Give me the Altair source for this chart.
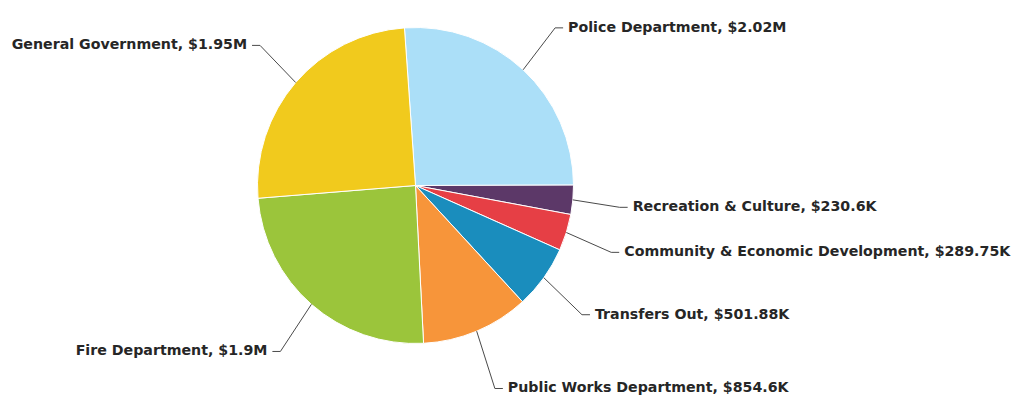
import altair as alt
import pandas as pd

categories = [
    "Police Department",
    "Recreation & Culture",
    "Community & Economic Development",
    "Transfers Out",
    "Public Works Department",
    "Fire Department",
    "General Government",
]
values = [2020000, 230600, 289750, 501880, 854600, 1900000, 1950000]
colors = ["#abdff8", "#5c3868", "#e63f45", "#1a8dbd", "#f7953a", "#9bc53b", "#f1ca1d"]


def fmt(v):
    if v >= 1e6:
        s = f"{v / 1e6:.2f}".rstrip("0").rstrip(".")
        return f"${s}M"
    s = f"{v / 1e3:.2f}".rstrip("0").rstrip(".")
    return f"${s}K"


df = pd.DataFrame({
    "category": categories,
    "value": values,
    "order": list(range(len(categories))),
    "label": [f"{c}, {fmt(v)}" for c, v in zip(categories, values)],
})

CX, CY, R = 415.5, 185.5, 158
RX, RY, LY_SHIFT = 205, 218, 2
OFFSET = -0.07

base = (
    alt.Chart(df)
    .transform_joinaggregate(total="sum(value)")
    .transform_window(cum="sum(value)", sort=[alt.SortField("order")], frame=[None, 0])
    .transform_calculate(
        t1=f"datum.cum / datum.total * 2 * PI + ({OFFSET})",
        t0=f"(datum.cum - datum.value) / datum.total * 2 * PI + ({OFFSET})",
    )
    .transform_calculate(tm="(datum.t0 + datum.t1) / 2")
    .transform_calculate(
        ex=f"{CX} + {R} * sin(datum.tm)",
        ey=f"{CY} - {R} * cos(datum.tm)",
        lx=f"{CX} + {RX} * sin(datum.tm)",
        ly=f"{CY} + {LY_SHIFT} - {RY} * cos(datum.tm)",
        side="sin(datum.tm) >= 0 ? 1 : -1",
    )
    .transform_calculate(
        hx="datum.lx + 8 * datum.side",
        tx="datum.lx + 13 * datum.side",
    )
)

arcs = base.mark_arc(outerRadius=R, stroke="white", strokeWidth=1).encode(
    theta=alt.Theta("t0:Q", scale=None),
    theta2="t1:Q",
    color=alt.Color("category:N", scale=alt.Scale(domain=categories, range=colors), legend=None),
    x=alt.value(CX),
    y=alt.value(CY),
)

leader = base.mark_rule(color="#4a4a4a", strokeWidth=1).encode(
    x=alt.X("ex:Q", scale=None, axis=None),
    y=alt.Y("ey:Q", scale=None, axis=None),
    x2="lx:Q",
    y2="ly:Q",
)

tick = base.mark_rule(color="#4a4a4a", strokeWidth=1).encode(
    x=alt.X("lx:Q", scale=None, axis=None),
    x2="hx:Q",
    y=alt.Y("ly:Q", scale=None, axis=None),
)

text_style = dict(baseline="middle", font="DejaVu Sans", fontSize=14.2, fontWeight="bold", color="#262626")

right_text = base.transform_filter("datum.side > 0").mark_text(align="left", **text_style).encode(
    x=alt.X("tx:Q", scale=None, axis=None),
    y=alt.Y("ly:Q", scale=None, axis=None),
    text="label:N",
)
left_text = base.transform_filter("datum.side < 0").mark_text(align="right", **text_style).encode(
    x=alt.X("tx:Q", scale=None, axis=None),
    y=alt.Y("ly:Q", scale=None, axis=None),
    text="label:N",
)

chart = (
    alt.layer(arcs, leader, tick, right_text, left_text)
    .properties(width=1029, height=403, autosize=alt.AutoSizeParams(type="none"), padding=0,
                background="white")
    .configure_view(stroke=None)
)

chart.save("out.html", embed_options={"renderer": "svg", "actions": False})
